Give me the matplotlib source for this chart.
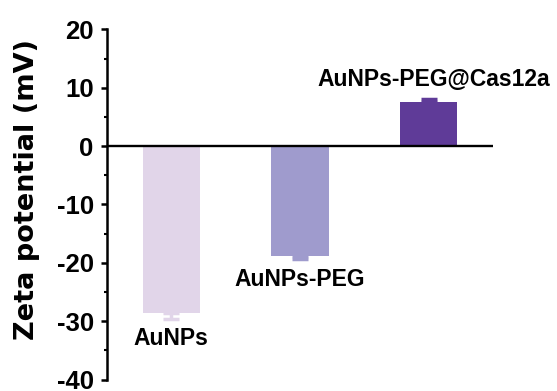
#!/usr/bin/env python3
"""Zeta potential bar chart (AuNPs / PEG / Cas12a)"""

import matplotlib
matplotlib.use('Agg')
import matplotlib.pyplot as plt
from matplotlib.ticker import MultipleLocator

plt.rcParams['font.family'] = ['Liberation Sans', 'DejaVu Sans']
plt.rcParams['font.weight'] = 'bold'
plt.rcParams['axes.unicode_minus'] = False

# Data
samples = ['AuNPs', 'AuNPs-PEG', 'AuNPs-PEG@Cas12a']
zeta = [-28.6, -18.8, 7.6]
zeta_err = [1.0, 0.5, 0.5]
colors = ['#E1D5E9', '#9F9BCD', '#5F3B98']

fig = plt.figure(figsize=(5.57, 3.91), dpi=100)
ax = fig.add_axes([0.192, 0.0294, 0.693, 0.8952])

x = list(range(len(samples)))
ax.bar(x, zeta, width=0.447, color=colors, zorder=2)

# one-sided error bars, pointing away from zero
for xi, v, e, c in zip(x, zeta, zeta_err, colors):
    lo, hi = ([e], [0]) if v < 0 else ([0], [e])
    ax.errorbar(xi, v, yerr=[lo, hi], fmt='none', ecolor=c,
                elinewidth=2.5, capsize=6, capthick=2.5, zorder=2)

# zero line
ax.axhline(0, color='black', linewidth=1.7, zorder=3)

# sample labels
label_y = [-32.9, -22.9, 11.35]
label_dx = [0.0, 0.0, 0.04]
for xi, name, ly, dx in zip(x, samples, label_y, label_dx):
    ax.text(xi + dx, ly, name, ha='center', va='center',
            fontsize=16.5, fontweight='bold')

ax.set_xlim(-0.5, 2.5)
ax.set_ylim(-40, 20)
ax.yaxis.set_major_locator(MultipleLocator(10))
ax.yaxis.set_minor_locator(MultipleLocator(5))
ax.set_xticks([])

for s in ['top', 'right', 'bottom']:
    ax.spines[s].set_visible(False)
ax.spines['left'].set_linewidth(1.8)
ax.tick_params(axis='y', which='major', length=4.5, width=1.8,
               labelsize=18.5, pad=5)
ax.tick_params(axis='y', which='minor', length=2.5, width=1.5)
for lbl in ax.get_yticklabels():
    lbl.set_fontweight('bold')

ax.set_ylabel('Zeta potential (mV)', fontsize=19.5, fontweight='bold',
              family='DejaVu Sans')
ax.yaxis.set_label_coords(-0.174, 0.544)

plt.savefig('out.png', dpi=100)
